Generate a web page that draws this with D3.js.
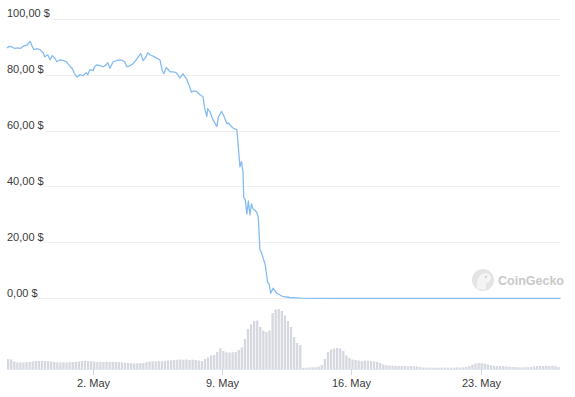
<!DOCTYPE html>
<html>
<head>
<meta charset="utf-8">
<script src="https://cdn.jsdelivr.net/npm/d3@7"></script>
<style>
  body { margin: 0; background: #fff; }
  text { font-family: "Helvetica Neue", Helvetica, Arial, "Liberation Sans", sans-serif; }
</style>
</head>
<body>
<div id="chart"></div>
<script>
// Price data (USD)
const priceTimes = [
  "2022-04-27 08:00","2022-04-27 11:00","2022-04-27 15:00","2022-04-27 18:00","2022-04-27 22:00",
  "2022-04-28 02:00","2022-04-28 06:00","2022-04-28 10:00","2022-04-28 14:00","2022-04-28 17:00",
  "2022-04-28 19:00","2022-04-28 23:00","2022-04-29 03:00","2022-04-29 07:00","2022-04-29 09:00",
  "2022-04-29 13:00","2022-04-29 16:00","2022-04-29 19:00","2022-04-29 22:00","2022-04-30 01:00",
  "2022-04-30 05:00","2022-04-30 09:00","2022-04-30 13:00","2022-04-30 17:00","2022-04-30 21:00",
  "2022-05-01 00:00","2022-05-01 03:00","2022-05-01 07:00","2022-05-01 11:00","2022-05-01 15:00",
  "2022-05-01 17:00","2022-05-01 20:00","2022-05-02 00:00","2022-05-02 02:00","2022-05-02 05:00",
  "2022-05-02 09:00","2022-05-02 13:00","2022-05-02 17:00","2022-05-02 19:00","2022-05-02 22:00",
  "2022-05-03 02:00","2022-05-03 06:00","2022-05-03 10:00","2022-05-03 14:00","2022-05-03 17:00",
  "2022-05-03 20:00","2022-05-04 00:00","2022-05-04 04:00","2022-05-04 08:00","2022-05-04 12:00",
  "2022-05-04 14:00","2022-05-04 17:00","2022-05-04 21:00","2022-05-04 23:00","2022-05-05 02:00",
  "2022-05-05 06:00","2022-05-05 10:00","2022-05-05 15:00","2022-05-05 18:00","2022-05-05 20:00",
  "2022-05-05 23:00","2022-05-06 01:00","2022-05-06 04:00","2022-05-06 08:00","2022-05-06 12:00",
  "2022-05-06 14:00","2022-05-06 17:00","2022-05-06 21:00","2022-05-07 02:00","2022-05-07 05:00",
  "2022-05-07 08:00","2022-05-07 11:00","2022-05-07 15:00","2022-05-07 19:00","2022-05-07 23:00",
  "2022-05-08 01:00","2022-05-08 04:00","2022-05-08 05:00","2022-05-08 08:00","2022-05-08 12:00",
  "2022-05-08 17:00","2022-05-08 19:00","2022-05-08 23:00","2022-05-09 02:00","2022-05-09 06:00",
  "2022-05-09 08:00","2022-05-09 11:00","2022-05-09 14:00","2022-05-09 19:00","2022-05-09 21:00",
  "2022-05-09 23:00","2022-05-10 01:00","2022-05-10 03:00","2022-05-10 04:00","2022-05-10 06:00",
  "2022-05-10 08:00","2022-05-10 10:00","2022-05-10 12:00","2022-05-10 14:00","2022-05-10 16:00",
  "2022-05-10 19:00","2022-05-10 21:00","2022-05-10 23:00","2022-05-11 01:00","2022-05-11 03:00",
  "2022-05-11 08:00","2022-05-11 11:00","2022-05-11 13:00","2022-05-11 15:00","2022-05-11 18:00",
  "2022-05-11 23:00","2022-05-12 06:00","2022-05-12 16:00","2022-05-13 05:00","2022-05-15 00:00",
  "2022-05-18 00:00","2022-05-21 00:00","2022-05-24 00:00","2022-05-27 08:00"
];
const priceValues = [
  89.5, 90.1, 89.8, 89.4, 89.6,
  89.4, 90.3, 90.5, 91.9, 90.0,
  88.9, 89.3, 88.9, 87.8, 86.4,
  87.1, 85.3, 86.8, 86.0, 84.6,
  85.3, 85.1, 84.6, 83.3, 82.1,
  80.3, 79.2, 80.0, 79.6, 80.7,
  80.0, 81.8, 81.4, 82.8, 83.5,
  83.2, 82.8, 83.5, 84.3, 82.3,
  84.6, 85.0, 85.3, 85.1, 84.6,
  82.8, 83.2, 83.9, 85.3, 86.8,
  87.5, 85.0, 86.4, 87.8, 87.1,
  86.6, 86.0, 85.3, 81.4, 80.3,
  82.5, 82.1, 81.0, 81.0, 80.7,
  80.0, 78.8, 80.3, 78.2, 76.0,
  73.7, 74.2, 73.9, 72.8, 72.1,
  68.1, 65.0, 67.8, 66.7, 63.8,
  61.4, 64.9, 66.8, 65.3, 62.4,
  62.7, 61.7, 60.9, 60.3, 53.8,
  47.0, 48.9, 45.2, 35.9, 35.2,
  30.2, 34.8, 29.8, 33.8, 32.0,
  31.3, 30.7, 28.8, 17.3, 16.4,
  11.9, 5.7, 5.1, 1.8, 3.6,
  1.8, 0.72, 0.29, 0.07, 0.0003,
  0.0002, 0.0002, 0.0001, 0.0001
];

// Volume (billion USD), one bar per 4 hours starting at volumeStart
const volumeStart = "2022-04-27 08:00";
const volumeStepHours = 4;
const volumeValues = [
  1.00, 0.95, 0.75, 0.65, 0.67, 0.65, 0.68, 0.70, 0.75, 0.80,
  0.80, 0.82, 0.80, 0.78, 0.75, 0.70, 0.67, 0.65, 0.67, 0.65,
  0.68, 0.70, 0.72, 0.75, 0.80, 0.82, 0.80, 0.78, 0.75, 0.70,
  0.72, 0.70, 0.73, 0.70, 0.72, 0.70, 0.68, 0.65, 0.62, 0.60,
  0.57, 0.55, 0.57, 0.58, 0.60, 0.70, 0.75, 0.77, 0.75, 0.80,
  0.78, 0.82, 0.85, 0.87, 0.90, 0.93, 0.95, 0.92, 0.95, 0.90,
  0.93, 0.90, 0.85, 0.80, 1.00, 1.15, 1.35, 1.40, 1.70, 2.07,
  1.80, 1.67, 1.65, 1.67, 1.70, 1.90, 2.15, 3.00, 4.00, 4.45,
  4.80, 4.85, 4.20, 3.85, 3.70, 3.85, 5.60, 5.95, 6.00, 5.80,
  5.35, 4.80, 4.20, 3.20, 2.60, 2.40, 0.12, 0.13, 0.15, 0.17,
  0.18, 0.25, 0.40, 1.00, 1.70, 1.95, 2.05, 2.10, 2.05, 1.80,
  1.35, 1.10, 0.95, 0.90, 0.85, 0.80, 0.85, 0.83, 0.80, 0.75,
  0.70, 0.60, 0.45, 0.38, 0.35, 0.33, 0.32, 0.30, 0.32, 0.30,
  0.28, 0.30, 0.27, 0.25, 0.20, 0.15, 0.13, 0.14, 0.13, 0.12,
  0.13, 0.14, 0.13, 0.12, 0.13, 0.14, 0.15, 0.14, 0.16, 0.20,
  0.30, 0.45, 0.55, 0.60, 0.58, 0.53, 0.45, 0.38, 0.33, 0.30,
  0.30, 0.28, 0.25, 0.22, 0.20, 0.18, 0.17, 0.16, 0.17, 0.18,
  0.20, 0.25, 0.30, 0.31, 0.30, 0.32, 0.30, 0.31, 0.28, 0.20
];

// Axis ticks
const priceTicks = [0, 20, 40, 60, 80, 100];
const dateTicks = ["2022-05-02 00:00", "2022-05-09 00:00", "2022-05-16 00:00", "2022-05-23 00:00"];
const startTime = "2022-04-27 08:00";
const endTime = "2022-05-27 08:00";

const parseTime = d3.timeParse("%Y-%m-%d %H:%M");
const formatPrice = v => d3.format(".2f")(v).replace(".", ",") + " $";
const formatDate = d => d3.timeFormat("%-d")(d) + ". " + d3.timeFormat("%b")(d);

const width = 575;
const height = 397;

const svg = d3.select("#chart")
    .append("svg")
    .attr("width", width)
    .attr("height", height);

svg.append("rect")
    .attr("width", width)
    .attr("height", height)
    .attr("fill", "#fff");

// Scales
const x = d3.scaleTime()
    .domain([parseTime(startTime), parseTime(endTime)])
    .range([7, 560.5]);

const y = d3.scaleLinear()
    .domain([0, 100])
    .range([298.3, 18.7]);

const yVol = d3.scaleLinear()
    .domain([0, 6])
    .range([369, 309]);

// Gridlines and price labels
priceTicks.forEach(v => {
    const label = svg.append("text")
        .attr("x", 7)
        .attr("y", y(v) - 1.5)
        .attr("font-size", 11)
        .attr("fill", "#3a3a3a")
        .text(formatPrice(v));
    const w = label.node().getComputedTextLength();

    svg.append("line")
        .attr("x1", 7 + w + 1)
        .attr("x2", 560)
        .attr("y1", Math.round(y(v)) + 0.5)
        .attr("y2", Math.round(y(v)) + 0.5)
        .attr("stroke", "#efefef")
        .attr("stroke-width", 1);
});

// Watermark
const mark = svg.append("g").attr("opacity", 0.9);
mark.append("circle")
    .attr("cx", 483)
    .attr("cy", 280)
    .attr("r", 11)
    .attr("fill", "#e2e2e2");
mark.append("path")
    .attr("d", "M477,289 C476,282 478,274 485,273 C489,273 491,276 491,279 C490,282 487,282 486,284 L486,290 Z")
    .attr("fill", "#f3f3f3");
mark.append("circle")
    .attr("cx", 486)
    .attr("cy", 277)
    .attr("r", 1.2)
    .attr("fill", "#cfcfcf");
mark.append("text")
    .attr("x", 498)
    .attr("y", 285)
    .attr("font-size", 12.5)
    .attr("font-weight", "bold")
    .attr("fill", "#c4c4c4")
    .text("CoinGecko");

// Volume bars
const volStart = parseTime(volumeStart);
const volData = volumeValues.map((v, i) => ({
    t: d3.timeHour.offset(volStart, i * volumeStepHours),
    v: v
}));

svg.append("g")
    .selectAll("rect")
    .data(volData)
    .enter()
    .append("rect")
    .attr("x", d => x(d.t))
    .attr("y", d => yVol(d.v))
    .attr("width", d => Math.max(0, x(d3.timeHour.offset(d.t, volumeStepHours)) - x(d.t) - 0.8))
    .attr("height", d => yVol(0) - yVol(d.v))
    .attr("fill", "#d5d8df");

// Volume baseline
svg.append("line")
    .attr("x1", 7)
    .attr("x2", 560.5)
    .attr("y1", 369.5)
    .attr("y2", 369.5)
    .attr("stroke", "#e3e8f2");

// Date ticks and labels
dateTicks.forEach(s => {
    const d = parseTime(s);
    const px = Math.round(x(d)) + 0.5;
    svg.append("line")
        .attr("x1", px)
        .attr("x2", px)
        .attr("y1", 369)
        .attr("y2", 375)
        .attr("stroke", "#ccd6eb");
    svg.append("text")
        .attr("x", px)
        .attr("y", 386.5)
        .attr("font-size", 11)
        .attr("fill", "#3a3a3a")
        .style("text-anchor", "middle")
        .text(formatDate(d));
});

// Price line
const priceData = priceTimes.map((t, i) => ({ t: parseTime(t), v: priceValues[i] }));

const line = d3.line()
    .x(d => x(d.t))
    .y(d => y(d.v));

svg.append("path")
    .datum(priceData)
    .attr("fill", "none")
    .attr("stroke", "#86bcf0")
    .attr("stroke-width", 1.3)
    .attr("stroke-linejoin", "round")
    .attr("d", line);
</script>
</body>
</html>
